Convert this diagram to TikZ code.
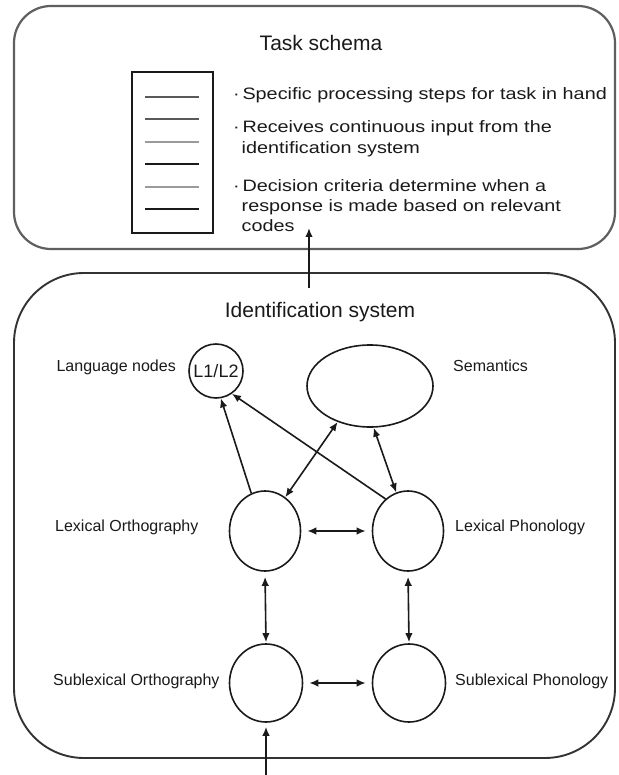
\documentclass[tikz,border=0pt]{standalone}
\usepackage{fontspec}
\setmainfont{Liberation Sans}
\newfontfamily\bulletfont[FakeStretch=1.2]{Liberation Sans}
\usetikzlibrary{shapes.geometric,arrows.meta}
\definecolor{ink}{HTML}{1A1A1A}
\definecolor{boxtop}{HTML}{5F5F5F}
\definecolor{boxbot}{HTML}{333333}
\definecolor{lgray}{HTML}{9A9A9A}
\definecolor{mgray}{HTML}{5A5A5A}
\begin{document}
\begin{tikzpicture}[x=1pt,y=-1pt,
  bigbox/.style={draw, inner sep=0pt, minimum width=601pt},
  ell/.style={draw=ink, ellipse, line width=1.6pt, inner sep=0pt},
  lbl/.style={font=\fontsize{16}{18}\selectfont, text=ink, inner sep=0pt},
  ttl/.style={font=\fontsize{21}{24}\selectfont, text=ink, inner sep=0pt},
  btxt/.style={font=\bulletfont\fontsize{16.5}{20}\selectfont, text=ink, inner sep=0pt, anchor=base west},
  docline/.style={line width=2pt},
  tip/.tip={Latex[length=9pt,width=7.5pt]},
  arr/.style={line width=1.6pt, draw=ink, -tip},
  darr/.style={line width=1.6pt, draw=ink, tip-tip},
]
\useasboundingbox (0,0) rectangle (618,775);
\fill[white] (0,0) rectangle (618,775);

% boxes
\node[bigbox, draw=boxtop, line width=2.2pt, rounded corners=37pt, minimum height=243pt] (task) at (314.5,127.5) {};
\node[bigbox, draw=boxbot, line width=1.9pt, rounded corners=70pt, minimum height=485pt] (ident) at (314.5,515.5) {};

% titles
\node[ttl] (t1) at (321,43) {Task schema};
\node[ttl] (t2) at (320,312) {Identification system};

% document icon
\node[draw=ink, line width=1.6pt, inner sep=0pt, minimum width=81pt, minimum height=161pt] (doc) at (172.5,152.5) {};
\draw[docline, mgray] (145,97) -- (199,97);
\draw[docline, mgray] (145,119) -- (199,119);
\draw[docline, lgray, line width=2.6pt] (145,142) -- (199,142);
\draw[docline, ink] (145,164) -- (199,164);
\draw[docline, lgray, line width=2.6pt] (145,187) -- (199,187);
\draw[docline, ink] (145,209) -- (199,209);

% bullets
\node[btxt] (b1) at (233,100) {·\,Specific processing steps for task in hand};
\node[btxt] (b2) at (233,133) {·\,Receives continuous input from the};
\node[btxt] (b2b) at (241.5,153.5) {identification system};
\node[btxt] (b3) at (233,192) {·\,Decision criteria determine when a};
\node[btxt] (b3b) at (241.5,212) {response is made based on relevant};
\node[btxt] (b3c) at (241.5,232) {codes};

% arrow between boxes
\coordinate (upfrom) at (309,288);
\coordinate (upto) at (309,228);
\draw[arr] (upfrom) -- (upto);

% nodes of identification system
\node[draw=ink, circle, line width=1.6pt, inner sep=0pt, minimum size=54pt, font=\fontsize{18}{20}\selectfont, text=ink] (l12) at (216,371) {L1/L2};
\node[ell, minimum width=126pt, minimum height=82pt] (sem) at (370,386) {};
\node[ell, minimum width=71pt, minimum height=80pt] (lo) at (265,531) {};
\node[ell, minimum width=71pt, minimum height=80pt] (lp) at (408,531) {};
\node[ell, minimum width=73pt, minimum height=78pt] (so) at (266,683) {};
\node[ell, minimum width=73pt, minimum height=78pt] (sp) at (409,683) {};

% labels
\node[lbl, anchor=mid east] (lang) at (176,369) {Language nodes};
\node[lbl, anchor=mid west] (seml) at (453,369) {Semantics};
\node[lbl, anchor=mid west] (lol) at (55,529) {Lexical Orthography};
\node[lbl, anchor=mid west] (lpl) at (455,529) {Lexical Phonology};
\node[lbl, anchor=mid west] (sol) at (53,683) {Sublexical Orthography};
\node[lbl, anchor=mid west] (spl) at (455,683) {Sublexical Phonology};

% connectors
\draw[arr] (lo.110) -- (l12.-80);
\draw[arr] (lp.125) -- (l12.-55);
\draw[darr] (sem.228) -- (lo.59);
\draw[darr] (sem.275) -- (lp.107);
\draw[darr, shorten <=6pt, shorten >=6pt] (lo.east) -- (lp.west);
\draw[darr, shorten <=5pt, shorten >=1pt] (lo.south) -- (so.north);
\draw[darr, shorten <=5pt, shorten >=1pt] (lp.south) -- (sp.north);
\draw[darr, shorten <=6pt, shorten >=6pt] (so.east) -- (sp.west);
\coordinate (inp) at (266,775);
\draw[arr, shorten >=4pt] (inp) -- (so.south);
\end{tikzpicture}
\end{document}
